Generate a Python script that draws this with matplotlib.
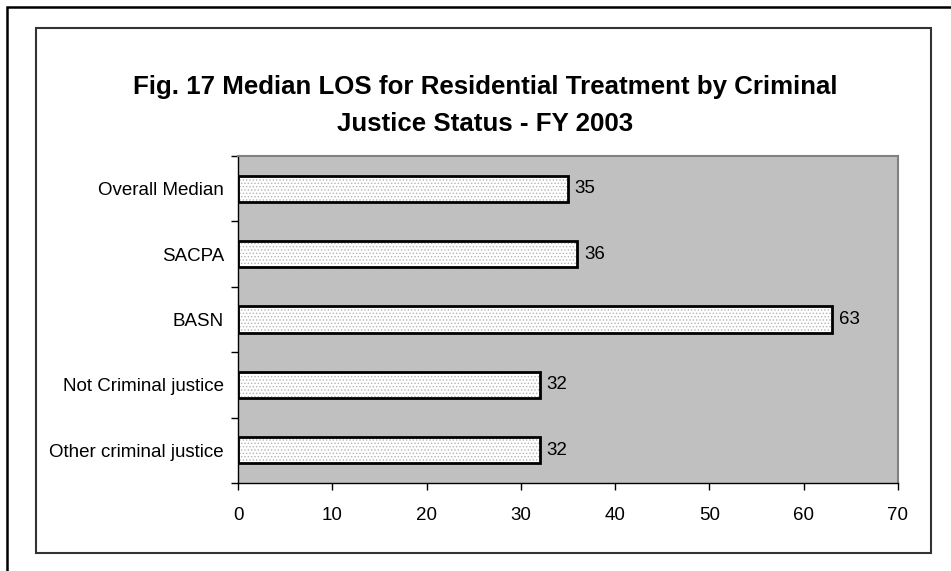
import matplotlib
matplotlib.use("Agg")
import matplotlib.pyplot as plt
from matplotlib.patches import Rectangle

categories = ["Overall Median", "SACPA", "BASN", "Not Criminal justice", "Other criminal justice"]
values = [35, 36, 63, 32, 32]
xticks = [0, 10, 20, 30, 40, 50, 60, 70]
title = "Fig. 17 Median LOS for Residential Treatment by Criminal\nJustice Status - FY 2003"

plt.rcParams['font.family'] = ['Liberation Sans', 'DejaVu Sans']
plt.rcParams['hatch.linewidth'] = 0.6

W, H = 951, 571
fig = plt.figure(figsize=(W / 100, H / 100), dpi=100)
fig.patch.set_facecolor('white')

# outer border
fig.patches.append(Rectangle((7 / W, -0.05), 1.0, 1 - 7 / H + 0.05, transform=fig.transFigure,
                             fill=False, edgecolor='black', linewidth=1.8))
# inner border
fig.patches.append(Rectangle((36 / W, 1 - 553 / H), (931 - 36) / W, (553 - 28) / H,
                             transform=fig.transFigure, fill=False, edgecolor='#333333', linewidth=1.5))

ax = fig.add_axes([238 / W, 1 - 483 / H, (898 - 238) / W, (483 - 156) / H])
ax.set_facecolor('#c0c0c0')

n = len(categories)
ypos = list(range(n))
ax.barh(ypos, values, height=0.4, color='white', edgecolor='#b4b4b4', hatch='.....', linewidth=0)
ax.barh(ypos, values, height=0.4, fill=False, edgecolor='black', linewidth=2)

fs = 13.5
for y, v in zip(ypos, values):
    ax.text(v + 0.7, y, str(v), va='center', ha='left', fontsize=fs, color='black')

ax.set_xlim(0, 70)
ax.set_ylim(n - 0.5, -0.5)
ax.set_xticks(xticks)
ax.set_xticklabels([str(t) for t in xticks], fontsize=fs)
ax.set_yticks(ypos)
ax.set_yticklabels(categories, fontsize=fs)
ax.tick_params(axis='y', length=0, pad=10)
ax.set_yticks([i - 0.5 for i in range(n + 1)], minor=True)
ax.tick_params(axis='y', which='minor', length=5, width=1, color='black')
ax.tick_params(axis='x', length=5, width=1, color='black', pad=12)

for s in ['top', 'right']:
    ax.spines[s].set_color('#808080')
    ax.spines[s].set_linewidth(1.5)
for s in ['left', 'bottom']:
    ax.spines[s].set_color('black')
    ax.spines[s].set_linewidth(1)

fig.text(485 / W, 1 - 105.5 / H, title, ha='center', va='center', fontsize=18.6,
         fontweight='bold', linespacing=1.68)

fig.savefig('out.png', dpi=100, facecolor='white')
